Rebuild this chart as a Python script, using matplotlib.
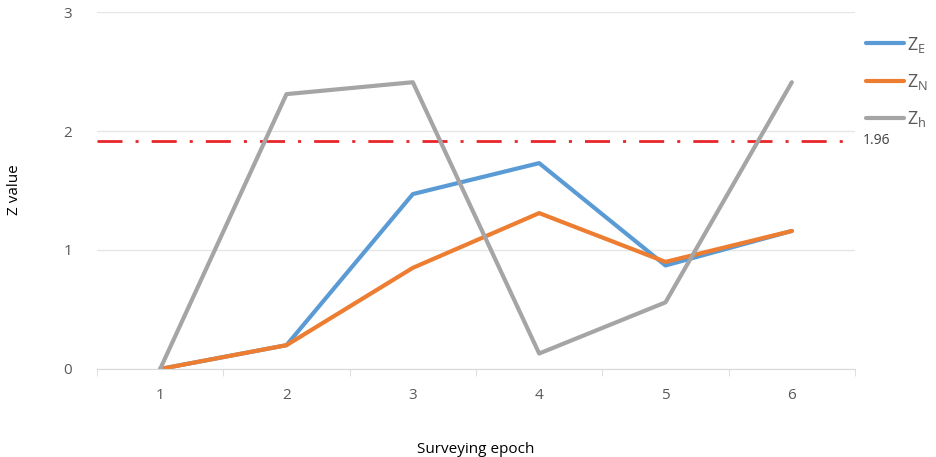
import matplotlib
matplotlib.use("Agg")
from matplotlib import pyplot as plt

matplotlib.rcParams["font.family"] = ["Open Sans", "DejaVu Sans"]

epochs = [1, 2, 3, 4, 5, 6]
z_e = [0.0, 0.20, 1.47, 1.73, 0.87, 1.16]
z_n = [0.0, 0.20, 0.85, 1.31, 0.90, 1.16]
z_h = [0.0, 2.31, 2.41, 0.13, 0.56, 2.41]
threshold_pos = 1.92
threshold_label = "1.96"

fig = plt.figure(figsize=(9.37, 4.57), dpi=100)
ax = fig.add_axes([0.1035, 0.1926, 0.809, 0.7811])

ax.plot(epochs, z_e, color="#5B9BD5", lw=3, label=r"Z$_\mathregular{E}$", solid_capstyle="round")
ax.plot(epochs, z_n, color="#ED7D31", lw=3, label=r"Z$_\mathregular{N}$", solid_capstyle="round")
ax.plot(epochs, z_h, color="#A5A5A5", lw=3, label=r"Z$_\mathregular{h}$", solid_capstyle="round")
ax.axhline(threshold_pos, color="#E8262A", lw=2, ls=(0, (9, 4.7, 1.1, 4.7)), zorder=1)
ax.text(6.56, threshold_pos, threshold_label, fontsize=10, color="#404040", va="center")

ax.set_xlim(0.5, 6.5)
ax.set_ylim(0, 3)
ax.set_yticks([0, 1, 2, 3])
ax.set_xticks(epochs)
ax.set_xticks([0.5 + i for i in range(7)], minor=True)
ax.grid(axis="y", color="#E6E6E6", lw=1)
ax.set_axisbelow(True)
for side in ["top", "right", "left"]:
    ax.spines[side].set_visible(False)
ax.spines["bottom"].set_color("#D9D9D9")
ax.tick_params(axis="y", length=0, pad=18, labelcolor="#595959", labelsize=11)
ax.tick_params(axis="x", which="major", length=0, pad=14, labelcolor="#595959", labelsize=11)
ax.tick_params(axis="x", which="minor", length=5, color="#D9D9D9")

ax.set_xlabel("Surveying epoch", fontsize=11, labelpad=28)
fig.text(0.016, 1 - 190 / 457, "Z value", rotation=90, fontsize=11, ha="center", va="center")

fig.legend(loc="upper left", bbox_to_anchor=(0.924, 0.924), frameon=False,
           borderaxespad=0, borderpad=0,
           handlelength=2.1, labelspacing=0.95, handletextpad=0.2, fontsize=13,
           labelcolor="#595959")

fig.savefig("out.png", dpi=100)
